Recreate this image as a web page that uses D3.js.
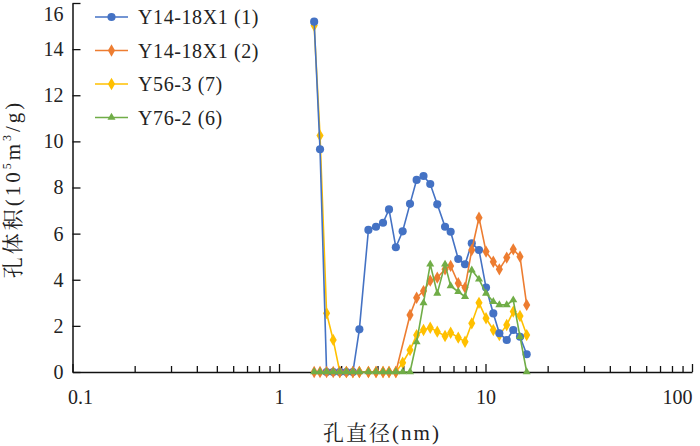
<!DOCTYPE html>
<meta charset="utf-8">
<html lang="zh">
<head>
  <title>孔径分布</title>
  <script src="https://d3js.org/d3.v7.min.js"></script>
  <style>
    body { margin: 0; background: #fff; }
    svg text { font-family: "Liberation Serif", "Times New Roman", "Noto Serif CJK SC", "Noto Sans CJK SC", serif; fill: #222; }
  </style>
</head>
<body>
<div id="chart"></div>
<script>

// pore diameters (nm), shared by all four samples
var diameters = [1.48, 1.58, 1.70, 1.83, 1.97, 2.12, 2.28, 2.45, 2.71, 2.95, 3.19, 3.41, 3.68,
                 3.97, 4.31, 4.64, 5.01, 5.40, 5.84, 6.37, 6.78, 7.38, 7.96, 8.58, 9.30,
                 10.06, 10.91, 11.67, 12.67, 13.63, 14.69, 15.83];

// pore volume (10^5 m3/g), null = no point
var blue   = [15.19, 9.66, 0, 0, 0, 0, 0, 1.85, 6.16, 6.30, 6.47, 7.05, 5.41,
              6.10, 7.29, 8.33, 8.50, 8.15, 7.27, 6.30, 6.08, 4.90, 4.67, 5.58, 5.29,
              3.66, 2.54, 1.68, 1.39, 1.82, 1.53, 0.77];
var orange = [0, 0, 0, 0, 0, 0, 0, 0, 0, 0, 0, 0, 0,
              null, 2.47, 3.22, 3.51, 3.96, 4.09, 4.45, 4.60, 3.85, 3.66, 5.29, 6.69,
              5.22, 4.78, 4.45, 4.96, 5.32, 5.00, 2.91];
var yellow = [15.02, 10.25, 2.55, 1.39, 0, 0, 0, 0, 0, 0, 0, 0, 0,
              0.40, 0.95, 1.60, 1.82, 1.92, 1.75, 1.56, 1.70, 1.49, 1.31, 2.11, 3.00,
              2.33, 1.82, 1.60, 2.04, 2.62, 2.43, 1.60];
var green  = [0, 0, 0, 0, 0, 0, 0, 0, 0, 0, 0, 0, 0,
              0, 0, 1.30, 3.00, 4.67, 3.41, 4.67, 3.73, 3.48, 3.27, 4.42, 4.02,
              3.41, 3.05, 2.91, 2.91, 3.12, 1.53, 0];

var seriesNames = ["Y14-18X1 (1)", "Y14-18X1 (2)", "Y56-3 (7)", "Y76-2 (6)"];
var xTicks = [0.1, 1, 10, 100];
var yTicks = [0, 2, 4, 6, 8, 10, 12, 14, 16];

var width = 700, height = 446;
var margin = {top: 3, right: 8, bottom: 74, left: 72.5};

var svg = d3.select("#chart")
  .append("svg")
    .attr("width", width)
    .attr("height", height);

var x = d3.scaleLog()
  .domain([0.1, 100])
  .range([margin.left, width - margin.right]);
var y = d3.scaleLinear()
  .domain([0, 16])
  .range([height - margin.bottom, margin.top]);

// minor ticks on the x axis
var minor = [];
[0.1, 1, 10].forEach(function (dec) {
  for (var k = 2; k <= 9; k++) minor.push(dec * k);
});
svg.append("g")
  .attr("transform", "translate(0," + y(0) + ")")
  .call(d3.axisBottom(x).tickValues(minor).tickSize(-6).tickFormat(""))
  .call(function (g) { g.select(".domain").remove(); })
  .selectAll("line").attr("stroke", "#111").attr("stroke-width", 1.3);

// X axis
var xAxis = svg.append("g")
  .attr("transform", "translate(0," + y(0) + ")")
  .call(d3.axisBottom(x).tickValues(xTicks).tickSize(-8).tickSizeOuter(0)
    .tickPadding(18).tickFormat(function (d) { return d; }));
xAxis.select(".domain").attr("stroke", "#111").attr("stroke-width", 1.5);
xAxis.selectAll("line").attr("stroke", "#111").attr("stroke-width", 1.3);
xAxis.selectAll("text").attr("font-size", 20).attr("fill", "#222");
xAxis.selectAll("text").filter(function (d) { return d === 0.1; }).attr("text-anchor", "start").attr("x", -5);
xAxis.selectAll("text").filter(function (d) { return d === 100; }).attr("text-anchor", "end").attr("x", 0);

// Y axis
var yAxis = svg.append("g")
  .attr("transform", "translate(" + margin.left + ",0)")
  .call(d3.axisLeft(y).tickValues(yTicks).tickSize(-8).tickSizeOuter(0).tickPadding(9));
yAxis.select(".domain").attr("stroke", "#111").attr("stroke-width", 1.5);
yAxis.selectAll("line").attr("stroke", "#111").attr("stroke-width", 1.3);
yAxis.selectAll("text").attr("font-size", 20).attr("fill", "#222");
// top label sits a little lower so it stays inside the picture
yAxis.selectAll("text").filter(function (d) { return d === 16; }).attr("y", 11);

// axis titles
svg.append("text")
  .attr("x", 382)
  .attr("y", 440)
  .attr("text-anchor", "middle")
  .attr("font-size", 21)
  .attr("letter-spacing", 2)
  .text("孔直径(nm)");

var yTitle = svg.append("text")
  .attr("transform", "translate(20,189) rotate(-90)")
  .attr("text-anchor", "middle")
  .attr("font-size", 21)
  .attr("letter-spacing", 3);
yTitle.append("tspan").text("孔体积(10");
yTitle.append("tspan").attr("font-size", 12).attr("dy", -9).text("5");
yTitle.append("tspan").attr("dy", 9).text("m");
yTitle.append("tspan").attr("font-size", 12).attr("dy", -9).text("3");
yTitle.append("tspan").attr("dy", 9).text("/g)");

// marker shapes
var symbols = {
  circle: d3.symbol().type(d3.symbolCircle).size(52),
  diamond: d3.symbol().type(d3.symbolDiamond).size(44),
  triangle: d3.symbol().type(d3.symbolTriangle).size(28)
};

var series = [
  {name: seriesNames[0], values: blue,   color: "#4472C4", shape: "circle",   order: 1},
  {name: seriesNames[1], values: orange, color: "#ED7D31", shape: "diamond",  order: 2},
  {name: seriesNames[2], values: yellow, color: "#FFC000", shape: "diamond",  order: 0},
  {name: seriesNames[3], values: green,  color: "#70AD47", shape: "triangle", order: 3}
];

var line = d3.line()
  .x(function (d) { return x(d.d); })
  .y(function (d) { return y(d.v); });

series.slice().sort(function (a, b) { return a.order - b.order; }).forEach(function (s) {
  var pts = diameters.map(function (d, i) { return {d: d, v: s.values[i]}; })
    .filter(function (p) { return p.v !== null; });
  var g = svg.append("g");
  g.append("path")
    .datum(pts)
    .attr("fill", "none")
    .attr("stroke", s.color)
    .attr("stroke-width", 1.6)
    .attr("d", line);
  g.selectAll("path.pt")
    .data(pts)
    .enter()
    .append("path")
      .attr("class", "pt")
      .attr("transform", function (p) { return "translate(" + x(p.d) + "," + y(p.v) + ")"; })
      .attr("d", symbols[s.shape]())
      .attr("fill", s.color);
});

// legend
var legend = svg.append("g");
series.forEach(function (s, i) {
  var ly = 17 + i * 33.5;
  legend.append("line")
    .attr("x1", 95).attr("x2", 128)
    .attr("y1", ly).attr("y2", ly)
    .attr("stroke", s.color).attr("stroke-width", 1.6);
  legend.append("path")
    .attr("transform", "translate(111.5," + ly + ")")
    .attr("d", symbols[s.shape]())
    .attr("fill", s.color);
  legend.append("text")
    .attr("x", 138)
    .attr("y", ly + 7)
    .attr("font-size", 20)
    .attr("letter-spacing", 0.6)
    .text(s.name);
});

</script>
</body>
</html>
